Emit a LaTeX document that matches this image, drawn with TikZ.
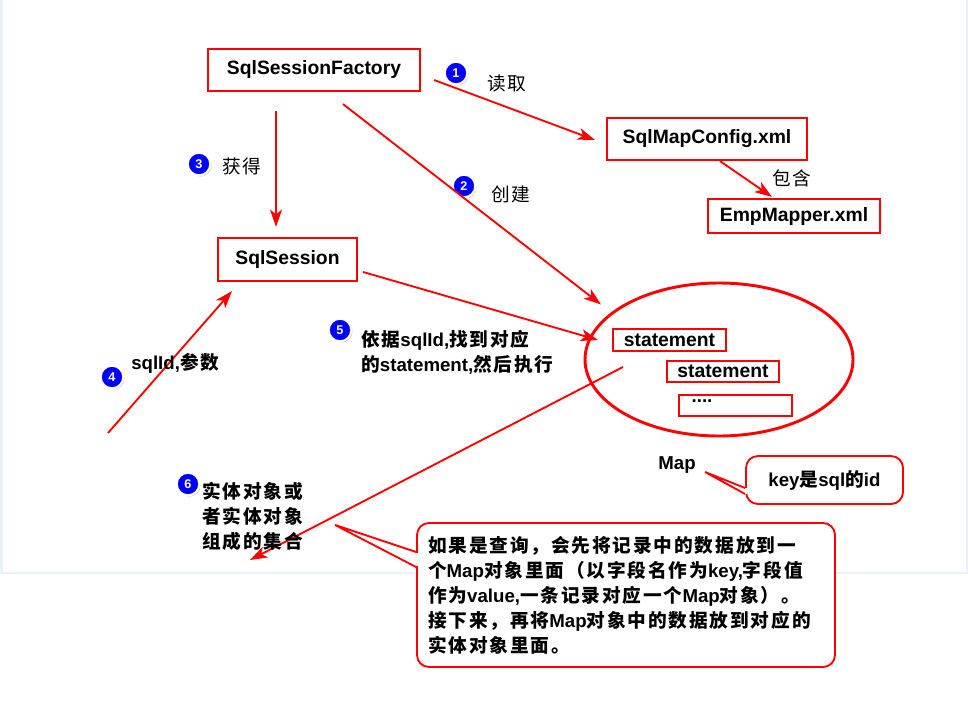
\documentclass[tikz,border=0pt]{standalone}
\usepackage{fontspec}
\setmainfont{Liberation Sans}
\newfontfamily\cjk[LetterSpace=10]{Noto Sans CJK SC}
\usepackage{tikz}
\usepackage{xcolor}
\usetikzlibrary{shapes.geometric, arrows.meta, positioning, calc, shadows}
\definecolor{pageline}{HTML}{EAF1FA}
\tikzset{
  box/.style={draw=red, line width=1.6pt, inner sep=0pt, font=\bfseries\fontsize{14.5}{18}\selectfont},
  arr/.style={red, line width=1.4pt, -{Stealth[length=13pt, width=9pt, inset=3.5pt]}},
  badge/.style={circle, fill=blue, draw=white, line width=1.6pt, minimum size=17pt, inner sep=0pt,
    text=white, font=\bfseries\fontsize{9.5}{9.5}\selectfont,
    drop shadow={shadow xshift=0.9pt, shadow yshift=-0.9pt, fill=black!50}},
  lbl/.style={inner sep=0pt, font=\fontsize{14}{18}\selectfont},
  blbl/.style={inner sep=0pt, align=left, font=\bfseries\fontsize{14}{18.75}\selectfont},
  note/.style={draw=red, line width=1.4pt, rounded corners=9pt, fill=white, inner sep=0pt}
}

\begin{document}
\begin{tikzpicture}[x=0.75pt, y=-0.75pt]
\useasboundingbox (0,0) rectangle (968,703);
% page frame
\draw[pageline, line width=2.2pt] (1.5,0) -- (1.5,573);
\draw[pageline, line width=0.8pt] (0,573) -- (967,573) -- (967,0);

% boxes
\node[box, minimum width=159pt, minimum height=31.5pt] (factory) at (314,70) {SqlSessionFactory};
\node[box, minimum width=150pt, minimum height=31.5pt] (cfg) at (707,139) {SqlMapConfig.xml};
\node[box, minimum width=129pt, minimum height=25.5pt] (emp) at (794,216) {EmpMapper.xml};
\node[box, minimum width=104.25pt, minimum height=32.25pt] (session) at (287.5,259.5) {SqlSession};

% Map
\node[draw=red, line width=2.2pt, ellipse, minimum width=201pt, minimum height=114.75pt, inner sep=0pt] (mapell) at (719,359.5) {};
\node[box, minimum width=84.75pt, minimum height=16.5pt] (stmt1) at (669.5,340) {statement};
\node[box, minimum width=84pt, minimum height=15.75pt] (stmt2) at (723,371.5) {statement};
\node[box, minimum width=84.75pt, minimum height=15.75pt] (more) at (735.5,405.5) {};
\node[blbl] (dots) at (702,401) {....};
\node[blbl] (maplbl) at (677,465) {Map};

% badges
\node[badge] (n1) at (456,73) {1};
\node[badge] (n2) at (464,186) {2};
\node[badge] (n3) at (199,164) {3};
\node[badge] (n4) at (112,377) {4};
\node[badge] (n5) at (340,330) {5};
\node[badge] (n6) at (188,484) {6};

% arrows
\draw[arr] ($(factory.east)+(13,10)$) -- ($(cfg.west)+(-11,1)$);
\draw[arr] ($(factory.south)+(29,12)$) -- ($(mapell.center)+(-118,-55)$);
\draw[arr] ($(factory.south)+(-38,19)$) -- ($(session.north)+(-11.5,-10)$);
\draw[arr] ($(cfg.south)+(13,0)$) -- ($(emp.north)+(-22,-1)$);
\coordinate (argin) at (108,433);
\draw[arr] (argin) -- ($(session.south)+(-55.5,9)$);
\draw[arr] ($(session.east)+(5,12.5)$) -- ($(mapell.center)+(-121,-19.5)$);
\coordinate (setend) at (250,560);
\draw[arr] ($(mapell.center)+(-96,7.5)$) -- (setend);

% labels
\node[lbl] (readlbl) at (507,83) {\cjk 读取};
\node[lbl] (getlbl) at (242,166) {\cjk 获得};
\node[lbl] (makelbl) at (511,194) {\cjk 创建};
\node[lbl] (haslbl) at (792,178) {\cjk 包含};
\node[blbl, anchor=west] (arglbl) at (131,363) {sqlId,{\cjk 参数}};
\node[blbl, anchor=west] (execlbl) at (361,352) {{\cjk 依据}sqlId,{\cjk 找到对应}\\{\cjk 的}statement,{\cjk 然后执行}};
\node[blbl, anchor=west] (entlbl) at (202,516) {{\cjk 实体对象或}\\{\cjk 者实体对象}\\{\cjk 组成的集合}};

% callouts
\node[note, minimum width=117.75pt, minimum height=36pt, font=\bfseries\fontsize{14}{18}\selectfont] (keynote) at (824.5,480) {key{\cjk 是}sql{\cjk 的}id};
\fill[white] ($(keynote.west)+(-1,8)$) rectangle ($(keynote.west)+(2,14)$);
\draw[red, line width=1.4pt] ($(keynote.west)+(0,8)$) -- ($(keynote.west)+(-40,-8)$) -- ($(keynote.west)+(0,14)$);

\node[note, minimum width=313.5pt, minimum height=108pt, text width=297pt, align=left, font=\bfseries\fontsize{14}{18.75}\selectfont] (bignote) at (626,595)
  {{\cjk 如果是查询，会先将记录中的数据放到一}\\
   {\cjk 个}Map{\cjk 对象里面（以字段名作为}key,{\cjk 字段值}\\
   {\cjk 作为}value,{\cjk 一条记录对应一个}Map{\cjk 对象）。}\\
   {\cjk 接下来，再将}Map{\cjk 对象中的数据放到对应的}\\
   {\cjk 实体对象里面。}};
\fill[white] ($(bignote.west)+(-1,-42)$) rectangle ($(bignote.west)+(2,-29)$);
\draw[red, line width=1.4pt] ($(bignote.west)+(0,-43)$) -- ($(bignote.west)+(-81,-70)$) -- ($(bignote.west)+(0,-28)$);
\end{tikzpicture}
\end{document}
